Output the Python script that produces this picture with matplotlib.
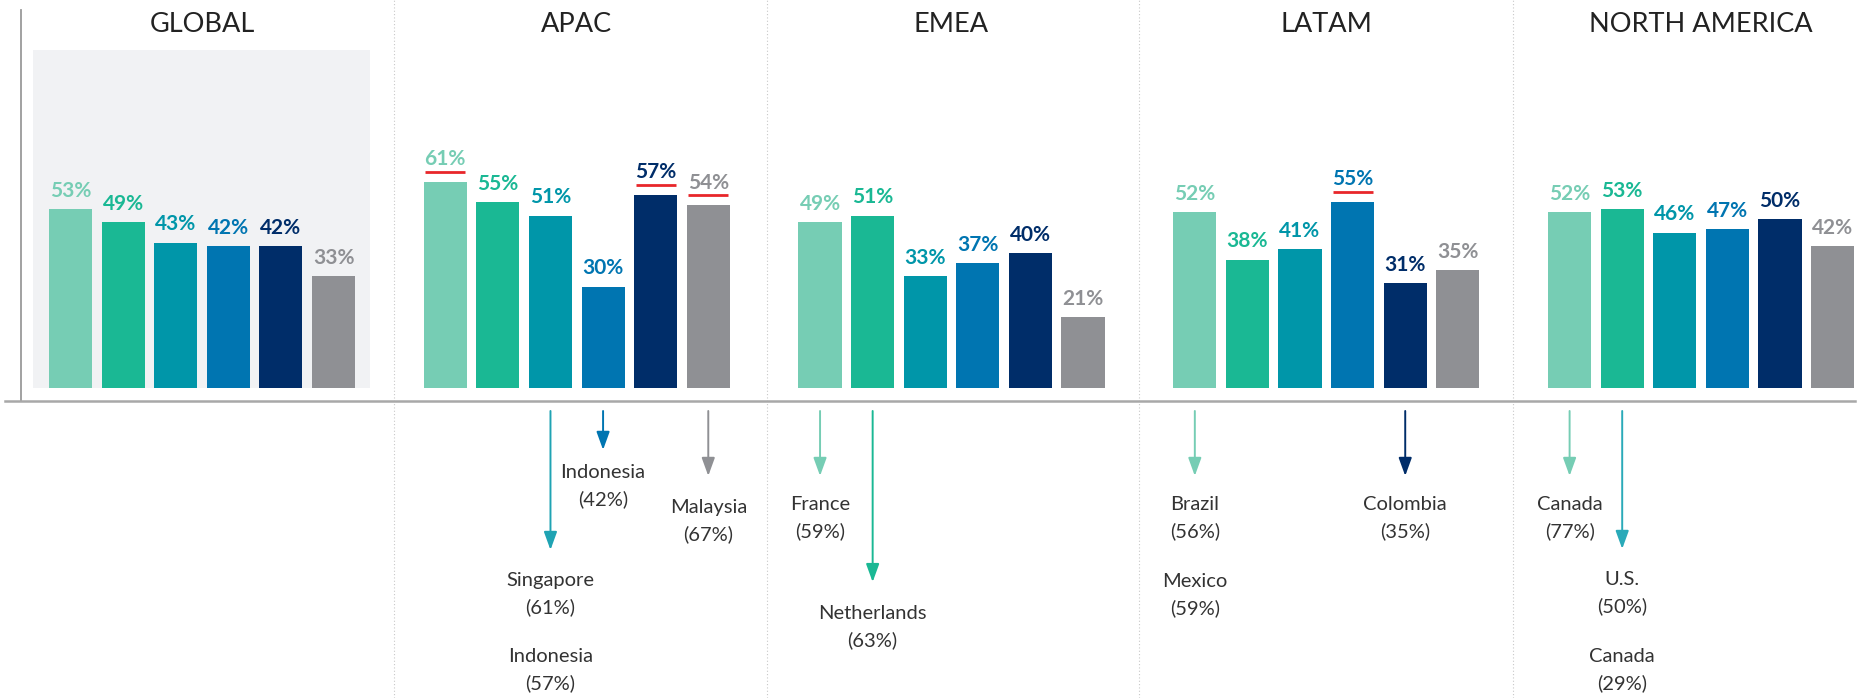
import matplotlib
matplotlib.use('Agg')
import matplotlib.pyplot as plt
from matplotlib.patches import Rectangle

plt.rcParams['font.family'] = ['Lato', 'DejaVu Sans']

# ---------- data ----------
regions = ['GLOBAL', 'APAC', 'EMEA', 'LATAM', 'NORTH AMERICA']
global_vals = [53, 49, 43, 42, 42, 33]
apac_vals = [61, 55, 51, 30, 57, 54]
emea_vals = [49, 51, 33, 37, 40, 21]
latam_vals = [52, 38, 41, 55, 31, 35]
na_vals = [52, 53, 46, 47, 50, 42]
all_vals = [global_vals, apac_vals, emea_vals, latam_vals, na_vals]

# bars flagged with a red underline (region index, bar index)
underlined = [(1, 0), (1, 4), (1, 5), (3, 3)]

bar_colors = ['#76CDB4', '#1AB894', '#0096A9', '#0075B1', '#002D69', '#8F9094']

# country call-outs below the axis
callout_region = [1, 1, 1, 1, 2, 2, 3, 3, 3, 4, 4, 4]
callout_bar = [3, 5, 2, 2, 0, 1, 0, 0, 4, 0, 1, 1]
callout_name = ['Indonesia', 'Malaysia', 'Singapore', 'Indonesia', 'France',
                'Netherlands', 'Brazil', 'Mexico', 'Colombia', 'Canada',
                'U.S.', 'Canada']
callout_pct = [42, 67, 61, 57, 59, 63, 56, 59, 35, 77, 50, 29]

# arrows: region, bar
arrow_region = [1, 1, 1, 2, 2, 3, 3, 4, 4]
arrow_bar = [2, 3, 5, 0, 1, 0, 4, 0, 1]

# ---------- layout ----------
STEP = 7.125          # panel spacing in bar units
W = 0.82              # bar width
BASE = -3.85          # horizontal axis line
label_base = [-26.6, -37.0, -58.6, -81.1, -36.1, -68.3, -36.1, -58.9,
              -36.1, -36.1, -58.3, -81.1]
arrow_end = [-47.9, -18.3, -26.0, -26.0, -57.4, -26.0, -26.0, -26.0, -47.6]
arrow_colors = ['#1FA3B3', '#0075B1', '#8F9094', '#76CDB4', '#1AB894',
                '#76CDB4', '#002D69', '#76CDB4', '#2AAAB9']

fig = plt.figure(figsize=(18.68, 6.98), dpi=100)
ax = fig.add_axes([0, 0, 1, 1])
ax.set_xlim(-70.5 / 52.6, (1868 - 70.5) / 52.6)
ax.set_ylim(-310 / 3.38, 388 / 3.38)
ax.axis('off')

# grey background behind GLOBAL
ax.add_patch(Rectangle((-0.713, 0), 6.41, 100, facecolor='#F1F2F4',
                       edgecolor='none', zorder=0))

# axis lines
ax.plot([-0.941, -0.941], [BASE, 111.8], color='#9A9A9A', lw=1.3, zorder=1)
ax.plot([-1.245, 33.93], [BASE, BASE], color='#A8A8A8', lw=1.8, zorder=1)

# dotted dividers
ylo, yhi = ax.get_ylim()
for p, off in zip(range(1, 5), [0.98, 1.0, 1.06, 1.08]):
    xd = p * STEP - off
    ax.plot([xd, xd], [ylo, yhi], color='#C8C8C8', lw=0.8,
            linestyle=(0, (1, 2)), zorder=0)

# bars, labels, titles
for p, vals in enumerate(all_vals):
    xs = [p * STEP + k for k in range(len(vals))]
    ax.bar(xs, vals, width=W, color=bar_colors, zorder=2)
    for k, (x, v) in enumerate(zip(xs, vals)):
        if (p, k) in underlined:
            ax.text(x, v + 5.0, f'{v}%', ha='center', va='baseline',
                    fontsize=15, fontweight='bold', color=bar_colors[k])
            ax.plot([x - 0.38, x + 0.38], [v + 3.0, v + 3.0],
                    color='#E8262A', lw=2.0, solid_capstyle='butt')
        else:
            ax.text(x, v + 3.6, f'{v}%', ha='center', va='baseline',
                    fontsize=15, fontweight='bold', color=bar_colors[k])
    ax.text((xs[0] + xs[-1]) / 2, 105.3, regions[p], ha='center',
            va='baseline', fontsize=19.5, color='#222222')

# arrows
for r, b, ye, c in zip(arrow_region, arrow_bar, arrow_end, arrow_colors):
    x = r * STEP + b
    ax.annotate('', xy=(x, ye), xytext=(x, -6.8),
                arrowprops=dict(arrowstyle='-|>,head_length=0.55,head_width=0.2',
                                color=c, lw=1.4, shrinkA=0, shrinkB=0,
                                mutation_scale=20))

# call-out texts
for r, b, name, pct, yb in zip(callout_region, callout_bar, callout_name,
                               callout_pct, label_base):
    x = r * STEP + b
    ax.text(x, yb, name, ha='center', va='baseline', fontsize=14.5,
            color='#333333')
    ax.text(x, yb - 8.0, f'({pct}%)', ha='center', va='baseline',
            fontsize=14.5, color='#333333')

fig.savefig('out.png', dpi=100)
